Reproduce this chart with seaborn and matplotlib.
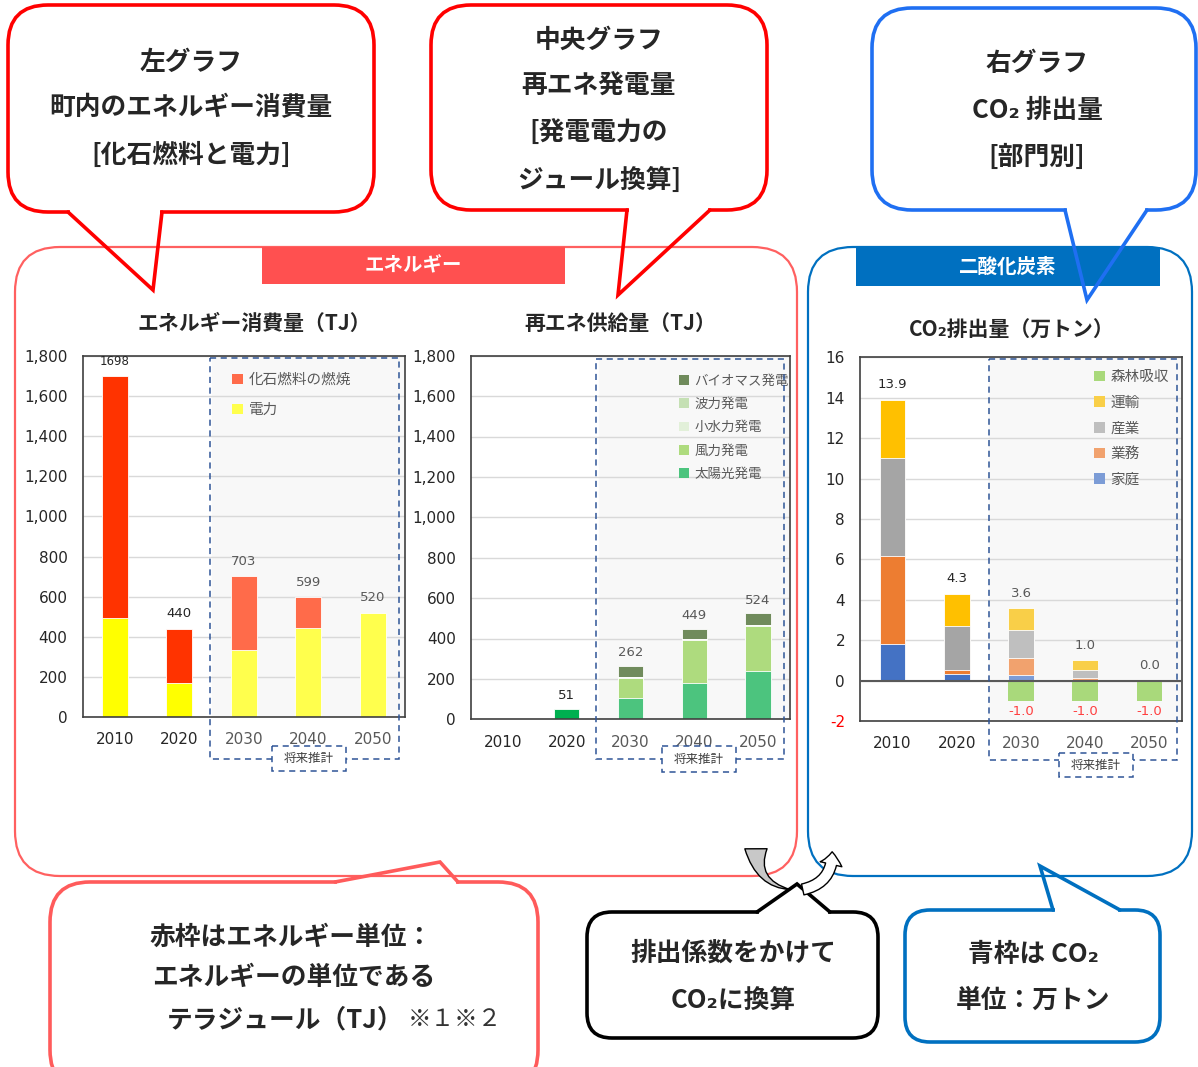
import numpy as np
import matplotlib
matplotlib.use('Agg')
import matplotlib.pyplot as plt
import seaborn as sns
from matplotlib.patches import FancyBboxPatch, Rectangle, Patch, FancyArrowPatch
from matplotlib.ticker import FuncFormatter

# ---------------- data ----------------
years = ['2010', '2020', '2030', '2040', '2050']

energy_labels = ['化石燃料の燃焼', '電力']
energy_fossil = [1204, 270, 369, 155, 0]
energy_elec = [494, 170, 334, 444, 520]
energy_totals = [1698, 440, 703, 599, 520]

re_labels = ['太陽光発電', '風力発電', '小水力発電', '波力発電', 'バイオマス発電']
re_solar = [0, 51, 107, 181, 239]
re_wind = [0, 0, 98, 212, 224]
re_small_hydro = [0, 0, 2, 3, 2]
re_wave = [0, 0, 3, 3, 3]
re_biomass = [0, 0, 52, 50, 56]
re_totals = [None, 51, 262, 449, 524]

co2_labels = ['家庭', '業務', '産業', '運輸', '森林吸収']
co2_home = [1.8, 0.35, 0.30, 0.03, 0.0]
co2_business = [4.35, 0.18, 0.84, 0.10, 0.0]
co2_industry = [4.85, 2.16, 1.38, 0.41, 0.0]
co2_transport = [2.9, 1.61, 1.08, 0.46, 0.0]
co2_forest = [0.0, 0.0, -1.0, -1.0, -1.0]
co2_totals = [13.9, 4.3, 3.6, 1.0, 0.0]

# colours (historical / projected)
energy_hist = ['#FFFF00', '#FF3300']
energy_fut = ['#FFFF4D', '#FF6B4A']
re_hist = ['#00B050', '#AEDB7E', '#E2F0D9', '#C5E0B4', '#708B5C']
re_fut = ['#4CC47E', '#AEDB7E', '#E2F0D9', '#C5E0B4', '#708B5C']
co2_hist = ['#4472C4', '#ED7D31', '#A5A5A5', '#FFC000']
co2_fut = ['#7C9CD6', '#F1A26E', '#BFBFBF', '#F9CF48']
forest_color = '#A9D97B'

# ---------------- style ----------------
sns.set_theme(style='white')
plt.rcParams['font.family'] = ['DejaVu Sans', 'Noto Sans CJK JP']
plt.rcParams['axes.unicode_minus'] = False
JP = ['Noto Sans CJK JP', 'DejaVu Sans']

W, H = 1198, 1067
fig = plt.figure(figsize=(W / 100, H / 100), dpi=100)

bg = fig.add_axes([0, 0, 1, 1], zorder=0)
bg.set_xlim(0, W); bg.set_ylim(H, 0); bg.axis('off')
fg = fig.add_axes([0, 0, 1, 1], zorder=5)
fg.set_xlim(0, W); fg.set_ylim(H, 0); fg.axis('off'); fg.patch.set_alpha(0)


def px_axes(l, t, r, b):
    return fig.add_axes([l / W, 1 - b / H, (r - l) / W, (b - t) / H], zorder=1)


def rbox(ax, x0, y0, x1, y1, r, ec, lw, fc='white'):
    ax.add_patch(FancyBboxPatch((x0, y0), x1 - x0, y1 - y0,
                                boxstyle=f'round,pad=0,rounding_size={r}',
                                fc=fc, ec=ec, lw=lw))


def tail(ax, b0, tip, b1, ec, lw):
    ax.plot([b0[0] + 2, b1[0] - 2], [b0[1], b1[1]], color='white', lw=lw + 1.5, solid_capstyle='butt')
    ax.plot([b0[0], tip[0], b1[0]], [b0[1], tip[1], b1[1]], color=ec, lw=lw,
            solid_joinstyle='miter')


CF = 18.5  # callout font size

# frames
rbox(bg, 15, 247, 797, 876, 45, '#FF6060', 1.6, fc='none')
rbox(bg, 808, 247, 1192, 876, 45, '#0070C0', 1.6, fc='none')
# headers
bg.add_patch(Rectangle((262, 247), 303, 37, fc='#FF5050', ec='none'))
bg.text(413, 266, 'エネルギー', ha='center', va='center', color='white', fontsize=14,
        fontweight='bold', family=JP)
bg.add_patch(Rectangle((856, 247), 304, 39, fc='#0070C0', ec='none'))
bg.text(1008, 267, '二酸化炭素', ha='center', va='center', color='white', fontsize=14,
        fontweight='bold', family=JP)

# top callouts
rbox(bg, 8, 5, 374, 212, 40, '#FF0000', 2.6)
tail(bg, (68, 212), (153, 290), (162, 212), '#FF0000', 2.6)
for y, s in [(62, '左グラフ'), (108, '町内のエネルギー消費量'), (155, '[化石燃料と電力]')]:
    bg.text(191, y, s, ha='center', va='center', fontsize=CF, fontweight='bold', family=JP)

rbox(bg, 431, 5, 767, 210, 40, '#FF0000', 2.6)
tail(bg, (627, 210), (618, 295), (710, 210), '#FF0000', 2.6)
for y, s in [(40, '中央グラフ'), (86, '再エネ発電量'), (133, '[発電電力の'), (180, 'ジュール換算]')]:
    bg.text(599, y, s, ha='center', va='center', fontsize=CF, fontweight='bold', family=JP)

rbox(bg, 872, 8, 1196, 210, 40, '#1F6FF2', 2.6)
tail(bg, (1065, 210), (1087, 300), (1147, 210), '#1F6FF2', 2.6)
for y, s in [(63, '右グラフ'), (110, 'CO₂ 排出量'), (157, '[部門別]')]:
    bg.text(1037, y, s, ha='center', va='center', fontsize=CF, fontweight='bold', family=JP)

# chart titles
bg.text(254, 323, 'エネルギー消費量（TJ）', ha='center', va='center', fontsize=15, fontweight='bold', family=JP)
bg.text(620, 323, '再エネ供給量（TJ）', ha='center', va='center', fontsize=15, fontweight='bold', family=JP)
bg.text(1012, 330, 'CO₂排出量（万トン）', ha='center', va='center', fontsize=15, fontweight='bold', family=JP)

# bottom callouts
rbox(bg, 50, 882, 538, 1090, 40, '#FF5B5B', 2.6)
tail(bg, (335, 882), (440, 862), (458, 882), '#FF5B5B', 2.6)
bg.text(291, 937, '赤枠はエネルギー単位：', ha='center', va='center', fontsize=CF, fontweight='bold', family=JP)
bg.text(294, 977, 'エネルギーの単位である', ha='center', va='center', fontsize=CF, fontweight='bold', family=JP)
bg.text(403, 1020, 'テラジュール（TJ）', ha='right', va='center', fontsize=CF, fontweight='bold', family=JP)
bg.text(408, 1020, '※１※２', ha='left', va='center', fontsize=17, color='#333333', family=JP)

rbox(bg, 587, 912, 878, 1038, 25, 'black', 2.6)
tail(bg, (757, 912), (797, 884), (830, 912), 'black', 2.6)
bg.text(733, 953, '排出係数をかけて', ha='center', va='center', fontsize=CF, fontweight='bold', family=JP)
bg.text(733, 1000, 'CO₂に換算', ha='center', va='center', fontsize=CF, fontweight='bold', family=JP)

rbox(bg, 905, 910, 1160, 1042, 25, '#0070C0', 2.6)
tail(bg, (1053, 910), (1040, 866), (1120, 910), '#0070C0', 2.6)
bg.text(1033, 955, '青枠は CO₂', ha='center', va='center', fontsize=CF, fontweight='bold', family=JP)
bg.text(1033, 1000, '単位：万トン', ha='center', va='center', fontsize=CF, fontweight='bold', family=JP)

# U-turn arrows
bg.add_patch(FancyArrowPatch((756, 846), (793, 890), connectionstyle='arc3,rad=0.45',
                             arrowstyle='wedge,tail_width=16,shrink_factor=0.3',
                             fc='#C8C8C8', ec='black', lw=1.0, zorder=3))
bg.add_patch(FancyArrowPatch((800, 890), (832, 849), connectionstyle='arc3,rad=0.45',
                             arrowstyle='simple,head_length=9,head_width=16,tail_width=8',
                             fc='white', ec='black', lw=1.0, zorder=3))

# ---------------- charts ----------------
GRID = '#D9D9D9'
DARK = '#262626'
GRAY = '#595959'


def style_axes(ax, yticks, ylim, fmt=None):
    ax.axvspan(1.5, 4.5, color='#F8F8F8', zorder=0)
    ax.set_xlim(-0.5, 4.5)
    ax.set_ylim(*ylim)
    ax.set_yticks(yticks)
    if fmt:
        ax.yaxis.set_major_formatter(FuncFormatter(fmt))
    ax.set_xlabel(''); ax.set_ylabel('')
    ax.yaxis.grid(True, color=GRID, lw=1)
    ax.set_axisbelow(True)
    ax.tick_params(axis='both', length=0, labelsize=11, colors=DARK)
    ax.tick_params(axis='y', pad=11)
    ax.tick_params(axis='x', pad=11)
    for sp in ax.spines.values():
        sp.set_visible(True); sp.set_color('#404040'); sp.set_linewidth(1.2)
    for i, t in enumerate(ax.get_xticklabels()):
        t.set_color(DARK if i < 2 else GRAY)


def stacked(ax, layers, hist, fut):
    cum = np.cumsum(np.array(layers, dtype=float), axis=0)
    for k in range(len(layers) - 1, -1, -1):
        pal = [hist[k]] * 2 + [fut[k]] * 3
        sns.barplot(x=years, y=cum[k], hue=years, palette=pal, legend=False, width=0.4,
                    saturation=1, linewidth=0.6, edgecolor='white', ax=ax)


def vlabel(ax, i, y, s, color, size, dy=5, va='bottom'):
    ax.annotate(s, (i, y), xytext=(0, dy), textcoords='offset points', ha='center', va=va,
                color=color, fontsize=size)


def legend(ax, labels, colors, x, y, spacing, size=10.5):
    handles = [Patch(facecolor=c, edgecolor='none') for c in colors]
    ax.legend(handles, labels, loc='upper left', bbox_to_anchor=(x, y), frameon=False,
              borderpad=0, borderaxespad=0, handlelength=0.75, handleheight=0.75,
              handletextpad=0.4, labelspacing=spacing, prop={'family': JP, 'size': size},
              labelcolor=GRAY)


thousands = lambda v, p: f'{int(v):,}'

# left chart
ax1 = px_axes(82.7, 356, 405, 717)
stacked(ax1, [energy_elec, energy_fossil], energy_hist, energy_fut)
style_axes(ax1, range(0, 1801, 200), (0, 1800), thousands)
for i, v in enumerate(energy_totals):
    vlabel(ax1, i, v, str(v), DARK if i < 2 else GRAY, 8.5 if i == 0 else 9.5, dy=6)
legend(ax1, energy_labels, [energy_fut[1], energy_fut[0]], 0.463, 0.953, 1.1)

# middle chart
ax2 = px_axes(471, 355.7, 790, 719.3)
stacked(ax2, [re_solar, re_wind, re_small_hydro, re_wave, re_biomass], re_hist, re_fut)
style_axes(ax2, range(0, 1801, 200), (0, 1800), thousands)
for i, v in enumerate(re_totals):
    if v is not None:
        vlabel(ax2, i, v, str(v), DARK if i < 2 else GRAY, 9.5, dy=5)
legend(ax2, re_labels[::-1], re_fut[::-1], 0.652, 0.95, 0.68, size=9.7)

# right chart
ax3 = px_axes(860.3, 357.3, 1181.7, 721)
stacked(ax3, [co2_home, co2_business, co2_industry, co2_transport], co2_hist, co2_fut)
sns.barplot(x=years, y=co2_forest, hue=years, palette=[forest_color] * 5, legend=False,
            width=0.4, saturation=1, linewidth=0, ax=ax3)
style_axes(ax3, range(-2, 17, 2), (-2, 16))
ax3.axhline(0, color='#595959', lw=1.5, zorder=3)
for t in ax3.get_yticklabels():
    if t.get_text() in ('-2', '−2'):
        t.set_color('#FF0000')
for i, v in enumerate(co2_totals):
    vlabel(ax3, i, v, f'{v:.1f}', DARK if i < 2 else GRAY, 9.5, dy=6)
for i, v in enumerate(co2_forest):
    if v < 0:
        vlabel(ax3, i, v, f'{v:.1f}', '#FF4040', 9.5, dy=-3, va='top')
legend(ax3, co2_labels[::-1], [forest_color] + co2_fut[::-1], 0.727, 0.965, 0.8)

# dashed "projection" boxes
DASH = '#2F5597'
for (x0, y0, x1, y1), (lx0, ly0, lx1, ly1) in [
        ((210, 358, 399, 759), (272, 746, 346, 771)),
        ((596, 359, 784, 759), (662, 746, 736, 772)),
        ((989, 359, 1177, 760), (1059, 753, 1133, 777))]:
    fg.add_patch(Rectangle((x0, y0), x1 - x0, y1 - y0, fill=False, ec=DASH, lw=1.1, ls=(0, (4, 3))))
    fg.add_patch(Rectangle((lx0, ly0), lx1 - lx0, ly1 - ly0, fc='white', ec=DASH, lw=1.1, ls=(0, (4, 3))))
    fg.text((lx0 + lx1) / 2, (ly0 + ly1) / 2, '将来推計', ha='center', va='center', fontsize=9,
            color='#404040', family=JP)

fig.savefig('out.png', dpi=100)
